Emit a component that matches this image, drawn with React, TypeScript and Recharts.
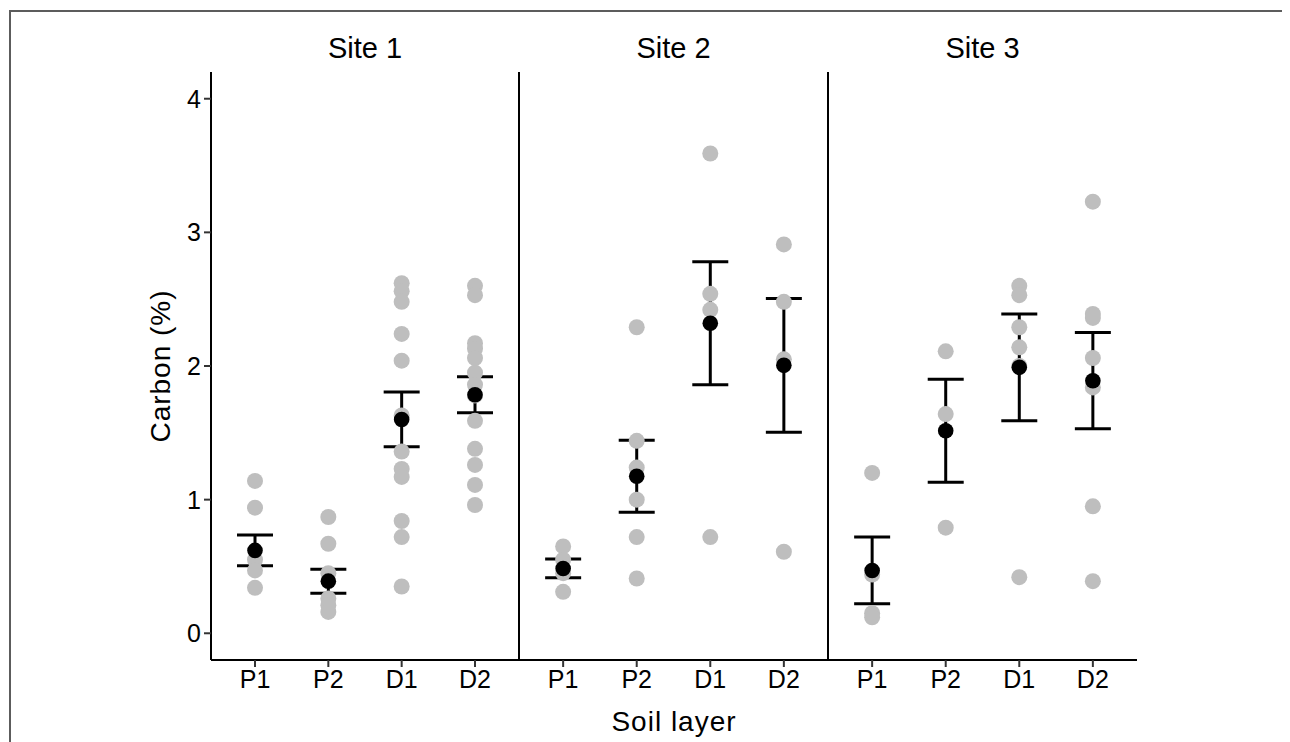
import React from "react";
import { ScatterChart, Scatter, XAxis, YAxis, ErrorBar } from "recharts";

const layers = ["P1", "P2", "D1", "D2"];
const sites = ["Site 1", "Site 2", "Site 3"];
const yTicks = [0, 1, 2, 3, 4];

// raw samples per layer (P1, P2, D1, D2)
const site1Raw = [
  [1.14, 0.94, 0.55, 0.47, 0.34],
  [0.87, 0.67, 0.45, 0.26, 0.21, 0.16],
  [2.62, 2.56, 2.48, 2.24, 2.04, 1.63, 1.36, 1.23, 1.17, 0.84, 0.72, 0.35],
  [2.6, 2.53, 2.17, 2.13, 2.06, 1.95, 1.86, 1.78, 1.59, 1.38, 1.26, 1.11, 0.96],
];
const site2Raw = [
  [0.65, 0.55, 0.45, 0.31],
  [2.29, 1.44, 1.24, 1.0, 0.72, 0.41],
  [3.59, 2.54, 2.42, 0.72],
  [2.91, 2.48, 2.05, 0.61],
];
const site3Raw = [
  [1.2, 0.44, 0.15, 0.12],
  [2.11, 1.64, 0.79],
  [2.6, 2.53, 2.29, 2.14, 2.0, 0.42],
  [3.23, 2.39, 2.36, 2.06, 1.84, 0.95, 0.39],
];

// mean and standard error per layer
const site1Mean = [0.62, 0.39, 1.6, 1.785];
const site1Se = [0.115, 0.09, 0.205, 0.135];
const site2Mean = [0.485, 1.175, 2.32, 2.005];
const site2Se = [0.07, 0.27, 0.46, 0.5];
const site3Mean = [0.47, 1.515, 1.99, 1.89];
const site3Se = [0.25, 0.385, 0.4, 0.36];

const FONT = "'Liberation Sans', Arial, Helvetica, sans-serif";
const GREY = "#bebebe";

const grey = (p: any) => <circle cx={p.cx} cy={p.cy} r={8} fill={GREY} />;
const dot = (p: any) => <circle cx={p.cx} cy={p.cy} r={7.8} fill="#000" />;

const tickStyle = { fill: "#000", fontSize: 25, fontFamily: FONT };

function Panel({ raw, mean, se, first }: { raw: number[][]; mean: number[]; se: number[]; first: boolean }) {
  const points = raw.flatMap((vals, i) => vals.map((v) => ({ x: i + 1, y: v })));
  const means = mean.map((m, i) => ({ x: i + 1, y: m, err: se[i] }));
  return (
    <ScatterChart
      width={first ? 511 : 313}
      height={692}
      margin={{ top: 64, right: 0, bottom: 0, left: 0 }}
    >
      <XAxis
        type="number"
        dataKey="x"
        domain={[0.4, 4.6]}
        ticks={[1, 2, 3, 4]}
        tickFormatter={(v: number) => layers[v - 1]}
        height={40}
        tickSize={7}
        tickMargin={3}
        axisLine={{ stroke: "#000", strokeWidth: 2 }}
        tickLine={{ stroke: "#333", strokeWidth: 2 }}
        tick={tickStyle}
        allowDataOverflow
      />
      <YAxis
        type="number"
        dataKey="y"
        domain={[-0.2, 4.2]}
        ticks={yTicks}
        width={first ? 203 : 4}
        tick={first ? tickStyle : false}
        tickLine={first ? { stroke: "#333", strokeWidth: 2 } : false}
        tickSize={7}
        tickMargin={3}
        axisLine={{ stroke: "#000", strokeWidth: 2 }}
        allowDataOverflow
        label={
          first
            ? {
                content: (props: any) => {
                  const vb = props.viewBox;
                  const cx = vb.x + 152;
                  const cy = vb.y + vb.height / 2;
                  return (
                    <text
                      x={cx}
                      y={cy}
                      transform={`rotate(-90 ${cx} ${cy})`}
                      textAnchor="middle"
                      dominantBaseline="central"
                      fontSize={28}
                      letterSpacing={1}
                      fontFamily={FONT}
                      fill="#000"
                    >
                      Carbon (%)
                    </text>
                  );
                },
              }
            : undefined
        }
      />
      <Scatter data={points} shape={grey} isAnimationActive={false} />
      <Scatter data={means} shape={dot} isAnimationActive={false}>
        <ErrorBar dataKey="err" direction="y" width={18} stroke="#000" strokeWidth={3} isAnimationActive={false} />
      </Scatter>
    </ScatterChart>
  );
}

export default function App() {
  const raws = [site1Raw, site2Raw, site3Raw];
  const means = [site1Mean, site2Mean, site3Mean];
  const ses = [site1Se, site2Se, site3Se];
  const lefts = [0, 507, 816];
  const centers = [357, 665.5, 974.5];
  return (
    <div style={{ position: "relative", width: 1282, height: 734, fontFamily: FONT, overflow: "hidden" }}>
      <div
        style={{
          position: "absolute",
          left: 1,
          top: 2,
          width: 1281,
          height: 732,
          borderTop: "2px solid #5c5c5c",
          borderLeft: "2px solid #5c5c5c",
          boxSizing: "border-box",
        }}
      />
      {sites.map((s, i) => (
        <div
          key={s}
          style={{
            position: "absolute",
            left: centers[i] - 100,
            width: 200,
            top: 23,
            lineHeight: "34px",
            fontSize: 29,
            textAlign: "center",
            color: "#000",
          }}
        >
          {s}
        </div>
      ))}
      {sites.map((s, i) => (
        <div key={s + "-chart"} style={{ position: "absolute", left: lefts[i], top: 0 }}>
          <Panel raw={raws[i]} mean={means[i]} se={ses[i]} first={i === 0} />
        </div>
      ))}
      <div
        style={{
          position: "absolute",
          left: 516,
          width: 300,
          top: 697,
          lineHeight: "34px",
          fontSize: 28,
          letterSpacing: 1,
          textAlign: "center",
          color: "#000",
        }}
      >
        Soil layer
      </div>
    </div>
  );
}
